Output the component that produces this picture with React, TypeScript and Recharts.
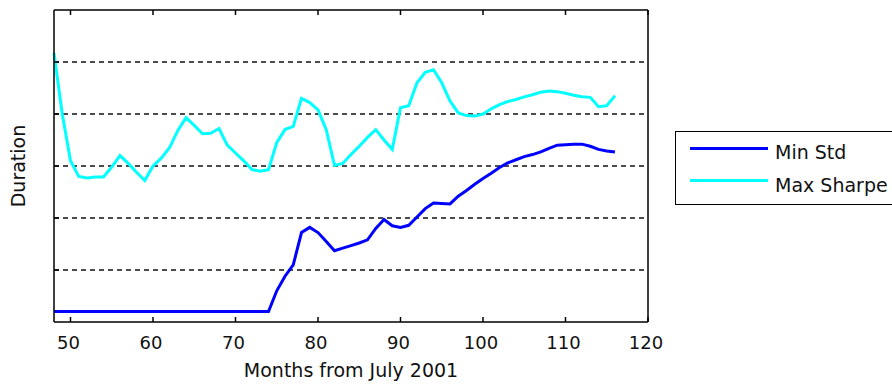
import { LineChart, Line, XAxis, YAxis, ReferenceLine, Legend } from 'recharts';

const months = [
  48, 49, 50, 51, 52, 53, 54, 55, 56, 57, 58, 59, 60, 61, 62, 63, 64, 65, 66, 67, 68, 69, 70,
  71, 72, 73, 74, 75, 76, 77, 78, 79, 80, 81, 82, 83, 84, 85, 86, 87, 88, 89, 90, 91, 92, 93,
  94, 95, 96, 97, 98, 99, 100, 101, 102, 103, 104, 105, 106, 107, 108, 109, 110, 111, 112,
  113, 114, 115, 116,
];

const minStd = [
  0.2, 0.2, 0.2, 0.2, 0.2, 0.2, 0.2, 0.2, 0.2, 0.2, 0.2, 0.2, 0.2, 0.2, 0.2, 0.2, 0.2, 0.2,
  0.2, 0.2, 0.2, 0.2, 0.2, 0.2, 0.2, 0.2, 0.2,
  0.6, 0.88, 1.1, 1.72, 1.82, 1.72, 1.55, 1.37, 1.42, 1.47, 1.52, 1.58, 1.8, 1.97, 1.85, 1.82,
  1.86, 2.02, 2.18, 2.29, 2.28, 2.27, 2.42, 2.53, 2.65, 2.76, 2.86, 2.97, 3.06, 3.12, 3.18,
  3.22, 3.27, 3.34, 3.4, 3.41, 3.42, 3.42, 3.38, 3.32, 3.29, 3.27,
];

const maxSharpe = [
  5.17, 4.0, 3.1, 2.8, 2.77, 2.79, 2.79, 2.98, 3.2, 3.05, 2.88, 2.72, 3.0, 3.15, 3.35, 3.68,
  3.93, 3.78, 3.62, 3.63, 3.72, 3.4, 3.25, 3.1, 2.93, 2.9, 2.93, 3.45, 3.7, 3.76, 4.3, 4.22,
  4.08, 3.7, 3.01, 3.05, 3.22, 3.38, 3.55, 3.7, 3.5, 3.32, 4.12, 4.16, 4.6, 4.8, 4.85, 4.6,
  4.25, 4.02, 3.97, 3.96, 4.0, 4.1, 4.18, 4.24, 4.28, 4.33, 4.37, 4.42, 4.44, 4.43, 4.4, 4.36,
  4.33, 4.32, 4.14, 4.16, 4.35,
];

const seriesNames = ['Min Std', 'Max Sharpe'];
const xTicks = [50, 60, 70, 80, 90, 100, 110, 120];
const yTicks = [1, 2, 3, 4, 5];
const gridLevels = [1, 2, 3, 4, 5];

const data = months.map((m, i) => ({ month: m, minStd: minStd[i], maxSharpe: maxSharpe[i] }));

const font = 'DejaVu Sans, sans-serif';
const TICK = 5;
const LABEL_GAP = 14;

// inward tick marks drawn from the tick positions recharts hands us
const BottomTick = ({ x, y, payload }: any) => (
  <g>
    <line x1={x} x2={x} y1={y - LABEL_GAP} y2={y - LABEL_GAP - TICK} stroke="#000" strokeWidth={1.5} />
    <text x={x - 2} y={y + 13} textAnchor="middle" fill="#111" fontSize={18} fontFamily={font}>
      {payload.value}
    </text>
  </g>
);
const TopTick = ({ x, y }: any) => <line x1={x} x2={x} y1={y} y2={y + TICK} stroke="#000" strokeWidth={1.5} />;
const LeftTick = ({ x, y }: any) => <line x1={x} x2={x + TICK} y1={y} y2={y} stroke="#000" strokeWidth={1.5} />;
const RightTick = ({ x, y }: any) => <line x1={x} x2={x - TICK} y1={y} y2={y} stroke="#000" strokeWidth={1.5} />;

function LegendBox({ payload }: any) {
  const items = [...(payload || [])].sort(
    (a: any, b: any) => seriesNames.indexOf(a.value) - seriesNames.indexOf(b.value)
  );
  return (
    <div
      style={{
        width: 240,
        height: 72,
        border: '1px solid #000',
        background: '#fff',
        position: 'relative',
        fontFamily: font,
        fontSize: 19,
        color: '#111',
      }}
    >
      {items.map((entry: any, i: number) => (
        <div key={entry.value} style={{ position: 'absolute', left: 14, top: 7 + i * 32.5, height: 26, display: 'flex', alignItems: 'center' }}>
          <span style={{ display: 'inline-block', width: 78, height: 3, background: entry.color, marginTop: -8 }} />
          <span style={{ marginLeft: 7, lineHeight: '26px' }}>{entry.value}</span>
        </div>
      ))}
    </div>
  );
}

export default function App() {
  return (
    <div style={{ position: 'absolute', left: 0, top: 0, width: 892, height: 385, overflow: 'hidden', background: '#fff' }}>
      <LineChart width={892} height={385} data={data} margin={{ top: 0, right: 0, bottom: 0, left: 0 }}>
        {gridLevels.map((v) => (
          <ReferenceLine key={v} y={v} stroke="#111" strokeWidth={1.5} strokeDasharray="5 4" />
        ))}
        <XAxis
          dataKey="month"
          type="number"
          domain={[48, 120]}
          ticks={xTicks}
          interval={0}
          height={63}
          tickLine={false}
          tickSize={0}
          tickMargin={LABEL_GAP}
          stroke="#000"
          strokeWidth={1.5}
          tick={BottomTick}
          label={{ value: 'Months from July 2001', position: 'insideBottom', offset: 8, fill: '#111', fontSize: 19, fontFamily: font }}
        />
        <XAxis
          xAxisId="top"
          orientation="top"
          dataKey="month"
          type="number"
          domain={[48, 120]}
          ticks={xTicks}
          interval={0}
          height={10}
          tickLine={false}
          tickSize={0}
          tickMargin={0}
          tick={TopTick}
          stroke="#000"
          strokeWidth={1.5}
        />
        <YAxis
          type="number"
          domain={[0, 6]}
          ticks={yTicks}
          interval={0}
          width={54}
          tickLine={false}
          tickSize={0}
          tickMargin={0}
          tick={LeftTick}
          stroke="#000"
          strokeWidth={1.5}
          label={{ value: 'Duration', angle: -90, position: 'insideLeft', offset: 18, style: { textAnchor: 'middle' }, fill: '#111', fontSize: 19, fontFamily: font }}
        />
        <YAxis
          yAxisId="right"
          orientation="right"
          type="number"
          domain={[0, 6]}
          ticks={yTicks}
          interval={0}
          width={244}
          tickLine={false}
          tickSize={0}
          tickMargin={0}
          tick={RightTick}
          stroke="#000"
          strokeWidth={1.5}
        />
        <Legend
          layout="vertical"
          align="center"
          verticalAlign="middle"
          content={<LegendBox />}
          wrapperStyle={{ left: 675, top: 131, width: 240, height: 74 }}
        />
        <Line type="linear" dataKey="minStd" name="Min Std" stroke="#0000ff" strokeWidth={3} dot={false} isAnimationActive={false} />
        <Line type="linear" dataKey="maxSharpe" name="Max Sharpe" stroke="#00ffff" strokeWidth={3} dot={false} isAnimationActive={false} />
      </LineChart>
    </div>
  );
}
